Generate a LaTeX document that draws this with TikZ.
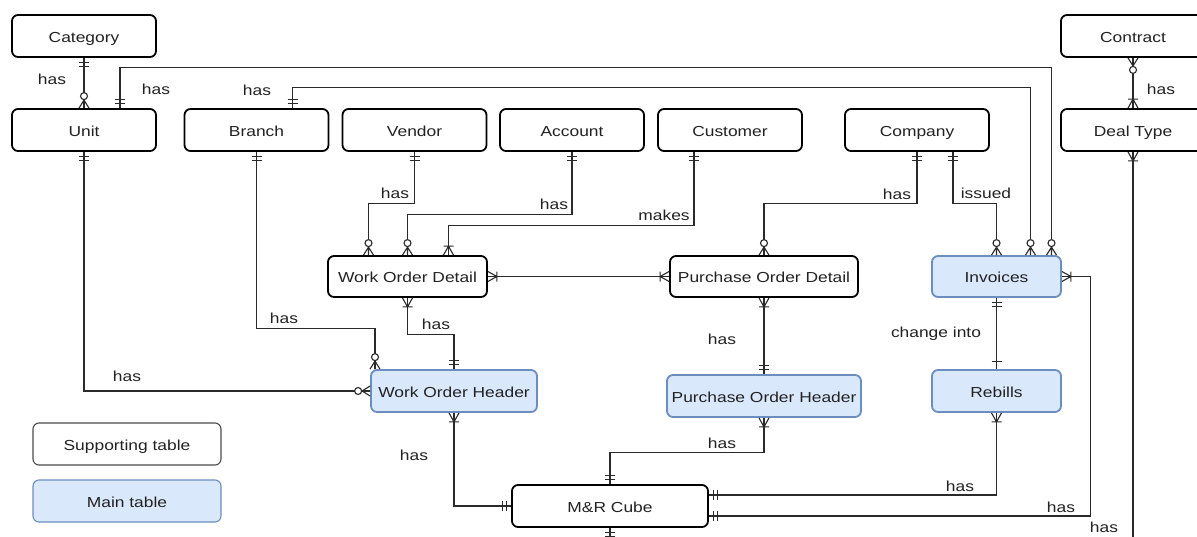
\documentclass[tikz,border=0pt]{standalone}
\usepackage{fontspec}
\setmainfont{Liberation Sans}[FakeStretch=1.2]
\definecolor{mainfill}{HTML}{DAE8FC}
\definecolor{mainline}{HTML}{6C8EBF}
\definecolor{txt}{HTML}{222222}
\definecolor{lc}{HTML}{2A2A2A}
\begin{document}
\begin{tikzpicture}[x=1pt,y=-1pt,
  every node/.style={font=\fontsize{14.5}{17}\selectfont, text=txt},
  boxtext/.style={text height=12.5pt, text depth=0pt, inner sep=2pt},
  sup/.style={boxtext, draw=black, line width=1.8pt, rounded corners=6pt, fill=white, minimum width=144pt, minimum height=42pt},
  mainbox/.style={boxtext, draw=mainline, fill=mainfill, line width=1.8pt, rounded corners=6pt, minimum height=42pt},
  legsup/.style={boxtext, draw=black!70, line width=1.1pt, rounded corners=6pt, fill=white, minimum width=188pt, minimum height=42pt},
  legmain/.style={boxtext, draw=mainline, line width=1.1pt, rounded corners=6pt, fill=mainfill, minimum width=188pt, minimum height=42pt},
  conn/.style={draw=lc, line width=1.1pt},
  lbl/.style={inner sep=1pt},
  mand/.pic={\draw[conn] (5,-5)--(5,5) (9,-5)--(9,5);},
  onebar/.pic={\draw[conn] (8,-5)--(8,5);},
  zmany/.pic={\draw[conn] (0,-5)--(8,0)--(0,5) (0,0)--(8,0); \draw[conn,fill=white] (12,0) circle (3.5pt);},
  omany/.pic={\draw[conn] (0,-5)--(9,0)--(0,5) (9,-5)--(9,5);},
]
\useasboundingbox (0,0) rectangle (1197,536);
\clip (0,0) rectangle (1197,536);
\fill[white] (0,0) rectangle (1197,536);

% nodes
\node[sup] (category) at (84,36) {Category};
\node[sup] (contract) at (1133,36) {Contract};
\node[sup] (unit) at (84,130) {Unit};
\node[sup] (branch) at (256.5,130) {Branch};
\node[sup] (vendor) at (414.5,130) {Vendor};
\node[sup] (account) at (572,130) {Account};
\node[sup] (customer) at (730,130) {Customer};
\node[sup] (company) at (917,130) {Company};
\node[sup] (dealtype) at (1133,130) {Deal Type};
\node[sup, minimum width=159pt, minimum height=41pt] (wod) at (407.5,276.5) {Work Order Detail};
\node[sup, minimum width=188pt, minimum height=41pt] (pod) at (764,276.5) {Purchase Order Detail};
\node[mainbox, minimum width=129pt, minimum height=41pt] (invoices) at (996.5,276.5) {Invoices};
\node[mainbox, minimum width=166pt] (woh) at (454,391) {Work Order Header};
\node[mainbox, minimum width=194pt] (poh) at (764,396) {Purchase Order Header};
\node[mainbox, minimum width=129pt] (rebills) at (996.5,391) {Rebills};
\node[sup, minimum width=196pt] (mr) at (610,506) {M\&R Cube};
\node[legsup] (legs) at (127,444) {Supporting table};
\node[legmain] (legm) at (127,501) {Main table};

\coordinate (dtend) at (1133,560);
\coordinate (mrend) at (610,560);

% connectors
\draw[conn] (category) -- (unit);
\draw[conn] ([xshift=36]unit.north) -- ++(0,-41) -| ([xshift=55]invoices.north);
\draw[conn] ([xshift=36]branch.north) -- ++(0,-21) -| ([xshift=34]invoices.north);
\draw[conn] (unit.south) |- (woh.west);
\draw[conn] (branch.south) -- ++(0,177) -| ([xshift=-79]woh.north);
\draw[conn] (vendor.south) -- ++(0,52) -| ([xshift=-39]wod.north);
\draw[conn] (account.south) -- ++(0,63) -| (wod.north);
\draw[conn] ([xshift=-36]customer.south) -- ++(0,74) -| ([xshift=41]wod.north);
\draw[conn] (wod) -- (pod);
\draw[conn] (company.south) -- ++(0,52) -| (pod.north);
\draw[conn] ([xshift=36]company.south) -- ++(0,52) -| (invoices.north);
\draw[conn] (contract) -- (dealtype);
\draw[conn] (dealtype.south) -- (dtend);
\draw[conn] (wod.south) -- ++(0,37) -| (woh.north);
\draw[conn] (pod) -- (poh);
\draw[conn] (invoices) -- (rebills);
\draw[conn] (poh.south) -- ++(0,35) -| (mr.north);
\draw[conn] (woh.south) |- (mr.west);
\draw[conn] (rebills.south) |- ([yshift=11]mr.east);
\draw[conn] (invoices.east) -- ++(29,0) |- ([yshift=-10]mr.east);
\draw[conn] (mr.south) -- (mrend);

% end markers
\pic[rotate=-90] at (category.south) {mand};
\pic[rotate=90] at (unit.north) {zmany};
\pic[rotate=90] at ([xshift=36]unit.north) {mand};
\pic[rotate=90] at ([xshift=55]invoices.north) {zmany};
\pic[rotate=90] at ([xshift=36]branch.north) {mand};
\pic[rotate=90] at ([xshift=34]invoices.north) {zmany};
\pic[rotate=-90] at (unit.south) {mand};
\pic[rotate=180] at (woh.west) {zmany};
\pic[rotate=-90] at (branch.south) {mand};
\pic[rotate=90] at ([xshift=-79]woh.north) {zmany};
\pic[rotate=-90] at (vendor.south) {mand};
\pic[rotate=90] at ([xshift=-39]wod.north) {zmany};
\pic[rotate=-90] at (account.south) {mand};
\pic[rotate=90] at (wod.north) {zmany};
\pic[rotate=-90] at ([xshift=-36]customer.south) {mand};
\pic[rotate=90] at ([xshift=41]wod.north) {omany};
\pic at (wod.east) {omany};
\pic[rotate=180] at (pod.west) {omany};
\pic[rotate=-90] at (company.south) {mand};
\pic[rotate=90] at (pod.north) {zmany};
\pic[rotate=-90] at ([xshift=36]company.south) {mand};
\pic[rotate=90] at (invoices.north) {zmany};
\pic[rotate=-90] at (contract.south) {zmany};
\pic[rotate=90] at (dealtype.north) {omany};
\pic[rotate=-90] at (dealtype.south) {omany};
\pic[rotate=-90] at (wod.south) {omany};
\pic[rotate=90] at (woh.north) {mand};
\pic[rotate=-90] at (pod.south) {omany};
\pic[rotate=90] at (poh.north) {mand};
\pic[rotate=-90] at (invoices.south) {mand};
\pic[rotate=90] at (rebills.north) {onebar};
\pic[rotate=-90] at (poh.south) {omany};
\pic[rotate=90] at (mr.north) {mand};
\pic[rotate=-90] at (woh.south) {omany};
\pic[rotate=180] at (mr.west) {mand};
\pic[rotate=-90] at (rebills.south) {omany};
\pic at ([yshift=11]mr.east) {mand};
\pic at (invoices.east) {omany};
\pic at ([yshift=-10]mr.east) {mand};
\pic[rotate=-90] at (mr.south) {mand};

% labels
\node[lbl] (t1) at (52,79) {has};
\node[lbl] (t2) at (156,89) {has};
\node[lbl] (t3) at (257,90) {has};
\node[lbl] (t4) at (395,193) {has};
\node[lbl] (t5) at (554,204) {has};
\node[lbl] (t6) at (664,215) {makes};
\node[lbl] (t7) at (897,194) {has};
\node[lbl] (t8) at (986,193) {issued};
\node[lbl] (t9) at (1161,89) {has};
\node[lbl] (t10) at (127,376) {has};
\node[lbl] (t11) at (284,318) {has};
\node[lbl] (t12) at (436,324) {has};
\node[lbl] (t13) at (722,339) {has};
\node[lbl] (t14) at (936,334) {change into};
\node[lbl] (t15) at (722,443) {has};
\node[lbl] (t16) at (414,455) {has};
\node[lbl] (t17) at (960,486) {has};
\node[lbl] (t18) at (1061,507) {has};
\node[lbl] (t19) at (1104,527) {has};
\end{tikzpicture}
\end{document}
